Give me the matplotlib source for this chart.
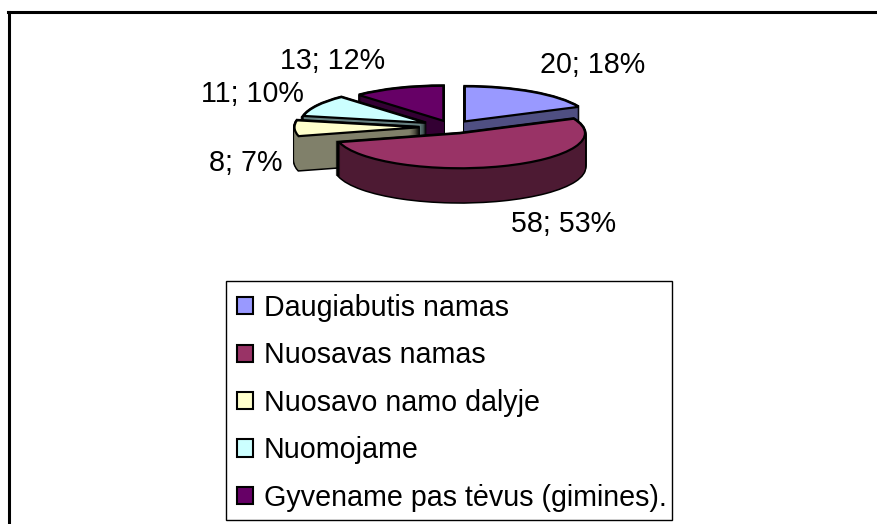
import matplotlib
matplotlib.use("Agg")
import matplotlib.pyplot as plt
from matplotlib.lines import Line2D
from matplotlib.patches import Patch, Rectangle

plt.rcParams['font.family'] = ['Liberation Sans', 'DejaVu Sans']

categories = ["Daugiabutis namas", "Nuosavas namas", "Nuosavo namo dalyje",
              "Nuomojame", "Gyvename pas tėvus (gimines)."]
values = [20, 58, 8, 11, 13]
percents = [18, 53, 7, 10, 12]
top_colors = ["#9999FF", "#993366", "#FFFFCC", "#CCFFFF", "#660066"]
side_colors = ["#4F4F82", "#4D1A33", "#80806A", "#668080", "#330033"]
explode = [0.19, 0.19, 0.26, 0.24, 0.19]

W, H = 878, 524
CX, CY = 452, 127  # pie centre, pixels
RX, RY = 125, 35  # pie radius on screen, pixels
DEPTH = 34  # pixels
FONT = 20.6

fig = plt.figure(figsize=(W / 100, H / 100), dpi=100)
ax = fig.add_axes([0, 0, 1, 1])


def draw_layer(dy, colors, edge, lw, z):
    # one full pie, every slice pulled out the same way
    wedges, _ = ax.pie(values, colors=colors, startangle=90, counterclock=False,
                       explode=explode, center=(0, -dy / RY),
                       wedgeprops=dict(edgecolor=edge, linewidth=lw))
    for i, w in zip(paint_order, z_order):
        wedges[i].set_zorder(w * 10 + z)
    return wedges


# back slices first, the big front one last
paint_order = [4, 3, 0, 2, 1]
z_order = [1, 2, 3, 4, 5]

for d in range(DEPTH + 1):
    draw_layer(d, ["black"] * 5, "black", 2.2, 1)
for d in range(DEPTH + 1):
    draw_layer(d, side_colors, "none", 0, 2)
draw_layer(0, top_colors, "black", 1.6, 3)

ax.set_aspect("auto")
ax.set_xlim(-CX / RX, (W - CX) / RX)
ax.set_ylim((CY - H) / RY, CY / RY)
ax.set_axis_off()

# outer chart frame, only top and left are in the crop
fig.add_artist(Line2D([9 / W, 9 / W], [0, 1 - 11.5 / H], color="black", lw=2.2))
fig.add_artist(Line2D([8 / W, 1], [1 - 11.5 / H, 1 - 11.5 / H], color="black", lw=2.2))

label_xy = [(593, 65), (563.5, 223.5), (246, 163), (252, 94), (333, 61)]
for v, p, (x, y) in zip(values, percents, label_xy):
    fig.text(x / W, 1 - y / H, f"{v}; {p}%", fontsize=FONT, ha="center", va="center")

# legend box drawn by hand, the legend's own one comes out too wide
fig.add_artist(Rectangle((226.5 / W, 1 - 520 / H), 445.5 / W, 239 / H,
                         transform=fig.transFigure, facecolor="white",
                         edgecolor="black", linewidth=1.0))
handles = [Patch(facecolor=c, edgecolor="black", linewidth=1.5) for c in top_colors]
leg = fig.legend(handles, categories, loc="upper left",
                 bbox_to_anchor=(226 / W, 1 - 283 / H), fontsize=FONT,
                 frameon=False, labelspacing=0.68, handlelength=0.56,
                 handleheight=0.56, handletextpad=0.38, borderpad=0.38,
                 borderaxespad=0)
leg.set_zorder(5)

fig.savefig("out.png", dpi=100)
